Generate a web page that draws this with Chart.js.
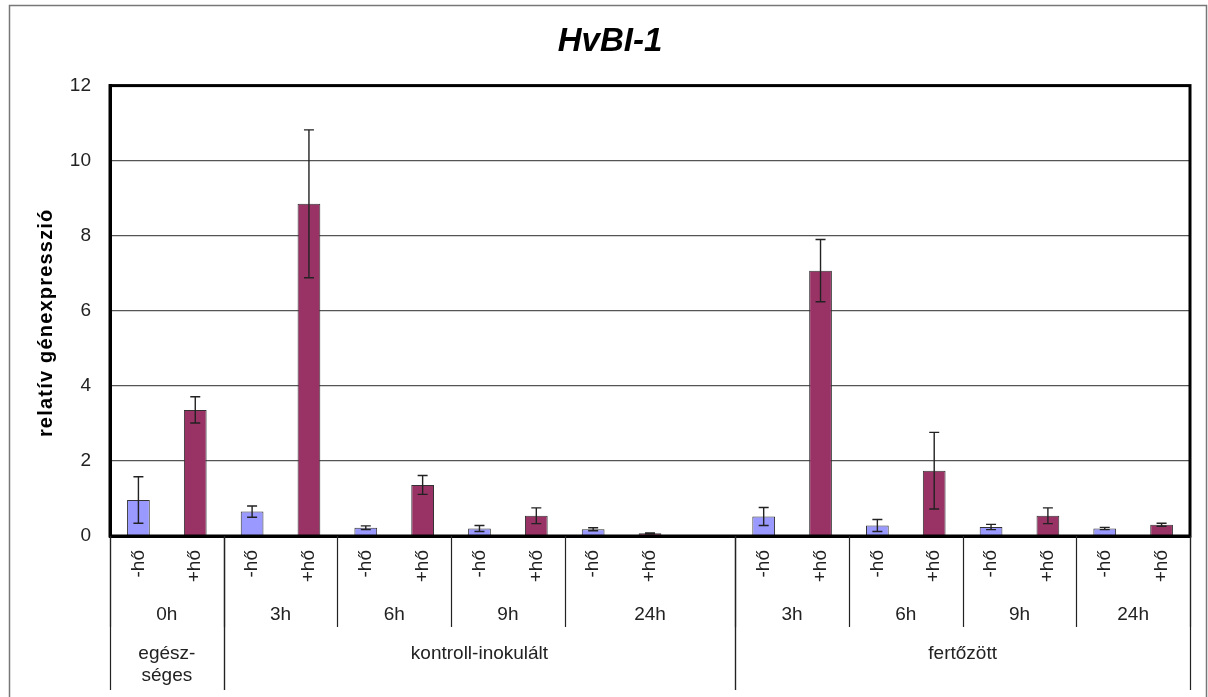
<!DOCTYPE html>
<html>
<head>
<meta charset="utf-8">
<script src="https://cdn.jsdelivr.net/npm/chart.js@4.4.1/dist/chart.umd.min.js"></script>
<style>
  html, body { margin: 0; padding: 0; background: #fff; }
</style>
</head>
<body>
<canvas id="chart" width="1208" height="697"></canvas>
<script>
const chartTitle = 'HvBI-1';
const yAxisTitle = 'relatív génexpresszió';
const treatmentLabels = ['-hő', '+hő'];
const timeLabels = ['0h', '3h', '6h', '9h', '24h', '3h', '6h', '9h', '24h'];
// number of category slots under each time label (24h kontroll has an empty slot after it)
const timeSlots = [2, 2, 2, 2, 3, 2, 2, 2, 2];
const groupLabels = [['egész-', 'séges'], ['kontroll-inokulált'], ['fertőzött']];
const groupTimes = [1, 4, 4];

// values
const noHeat    = [0.96, 0.65, 0.22, 0.20, 0.18, 0.52, 0.28, 0.24, 0.20];
const noHeatErr = [0.62, 0.15, 0.05, 0.08, 0.04, 0.24, 0.16, 0.07, 0.03];
const heat      = [3.36, 8.85, 1.36, 0.54, 0.07, 7.07, 1.74, 0.54, 0.30];
const heatErr   = [0.35, 1.97, 0.25, 0.21, 0.01, 0.83, 1.02, 0.21, 0.04];

const FONT = 'Arial, "Liberation Sans", sans-serif';
const INK = '#222';

// spread the per-time values over the category slots
const categories = [];
const noHeatData = [], heatData = [], noHeatErrData = [], heatErrData = [];
timeLabels.forEach((t, i) => {
  for (let s = 0; s < timeSlots[i]; s++) {
    categories.push(s < 2 ? treatmentLabels[s] : '');
    noHeatData.push(s === 0 ? noHeat[i] : null);
    noHeatErrData.push(s === 0 ? noHeatErr[i] : null);
    heatData.push(s === 1 ? heat[i] : null);
    heatErrData.push(s === 1 ? heatErr[i] : null);
  }
});

const errorBars = {
  id: 'errorBars',
  afterDatasetsDraw(chart) {
    const { ctx, scales: { y } } = chart;
    ctx.save();
    ctx.strokeStyle = INK;
    ctx.lineWidth = 1.4;
    chart.data.datasets.forEach((ds, di) => {
      const meta = chart.getDatasetMeta(di);
      ds.data.forEach((v, j) => {
        if (v == null) return;
        const e = ds.errors[j];
        const x = meta.data[j].x;
        const top = y.getPixelForValue(v + e);
        const bot = y.getPixelForValue(v - e);
        ctx.beginPath();
        ctx.moveTo(x, top); ctx.lineTo(x, bot);
        ctx.moveTo(x - 5, top); ctx.lineTo(x + 5, top);
        ctx.moveTo(x - 5, bot); ctx.lineTo(x + 5, bot);
        ctx.stroke();
      });
    });
    // plot frame
    const a = chart.chartArea;
    ctx.strokeStyle = '#000';
    ctx.lineWidth = 3;
    ctx.strokeRect(a.left, a.top, a.right - a.left, a.bottom - a.top);
    ctx.restore();
  }
};

const categoryTable = {
  id: 'categoryTable',
  afterDraw(chart) {
    const { ctx, chartArea: a, scales: { x } } = chart;
    const step = x.getPixelForValue(1) - x.getPixelForValue(0);
    const edge = i => x.getPixelForValue(i) - step / 2;
    ctx.save();
    ctx.strokeStyle = INK;
    ctx.lineWidth = 1.2;
    ctx.fillStyle = INK;
    ctx.font = '19px ' + FONT;
    ctx.textAlign = 'center';
    ctx.textBaseline = 'middle';

    // time row
    const timeEdges = [0];
    timeSlots.forEach(n => timeEdges.push(timeEdges[timeEdges.length - 1] + n));
    timeLabels.forEach((t, i) => {
      ctx.fillText(t, (edge(timeEdges[i]) + edge(timeEdges[i + 1])) / 2, a.bottom + 79);
    });
    timeEdges.forEach(s => {
      const px = Math.round(edge(s)) + 0.5;
      ctx.beginPath(); ctx.moveTo(px, a.bottom); ctx.lineTo(px, a.bottom + 91); ctx.stroke();
    });

    // group row
    let t0 = 0;
    groupLabels.forEach((lines, g) => {
      const l = edge(timeEdges[t0]);
      const r = edge(timeEdges[t0 + groupTimes[g]]);
      lines.forEach((txt, k) => ctx.fillText(txt, (l + r) / 2, a.bottom + 118 + k * 22));
      [l, r].forEach(p => {
        const px = Math.round(p) + 0.5;
        ctx.beginPath(); ctx.moveTo(px, a.bottom); ctx.lineTo(px, a.bottom + 154); ctx.stroke();
      });
      t0 += groupTimes[g];
    });

    // y axis title, slightly letter-spaced like the original
    ctx.save();
    ctx.translate(46, (a.top + a.bottom) / 2 + 12);
    ctx.rotate(-Math.PI / 2);
    ctx.fillStyle = '#000';
    ctx.font = 'bold 20px ' + FONT;
    ctx.letterSpacing = '1.2px';
    ctx.fillText(yAxisTitle, 0, 0);
    ctx.restore();

    // outer frame of the figure
    ctx.strokeStyle = '#777';
    ctx.lineWidth = 1.5;
    ctx.strokeRect(9.5, 5.5, 1197, 700);
    ctx.restore();
  }
};

new Chart(document.getElementById('chart'), {
  type: 'bar',
  data: {
    labels: categories,
    datasets: [
      {
        label: treatmentLabels[0],
        data: noHeatData,
        errors: noHeatErrData,
        backgroundColor: '#9999FF',
        borderColor: '#333',
        borderWidth: 1
      },
      {
        label: treatmentLabels[1],
        data: heatData,
        errors: heatErrData,
        backgroundColor: '#993366',
        borderColor: '#333',
        borderWidth: 1
      }
    ]
  },
  options: {
    responsive: false,
    animation: false,
    devicePixelRatio: 1,
    layout: { padding: { left: 30, right: 18, top: 0, bottom: 0 } },
    datasets: { bar: { grouped: false, barPercentage: 0.4, categoryPercentage: 1 } },
    plugins: {
      legend: { display: false },
      tooltip: { enabled: false },
      title: {
        display: true,
        text: chartTitle,
        color: '#000',
        font: { family: FONT, size: 33, weight: 'bold', style: 'italic' },
        padding: { top: 22, bottom: 24 }
      }
    },
    scales: {
      x: {
        grid: { display: false, drawTicks: false },
        border: { display: true, color: '#000', width: 3 },
        ticks: {
          autoSkip: false,
          minRotation: 90,
          maxRotation: 90,
          padding: 14,
          color: INK,
          font: { family: FONT, size: 19 }
        },
        afterFit(s) { s.height = 161; }
      },
      y: {
        min: 0,
        max: 12,
        grid: { color: '#555', lineWidth: 1.2, drawTicks: false },
        border: { display: true, color: '#000', width: 3 },
        ticks: {
          stepSize: 2,
          padding: 19,
          color: INK,
          font: { family: FONT, size: 19 }
        },
        afterFit(s) { s.width = 80; }
      }
    }
  },
  plugins: [errorBars, categoryTable]
});
</script>
</body>
</html>
